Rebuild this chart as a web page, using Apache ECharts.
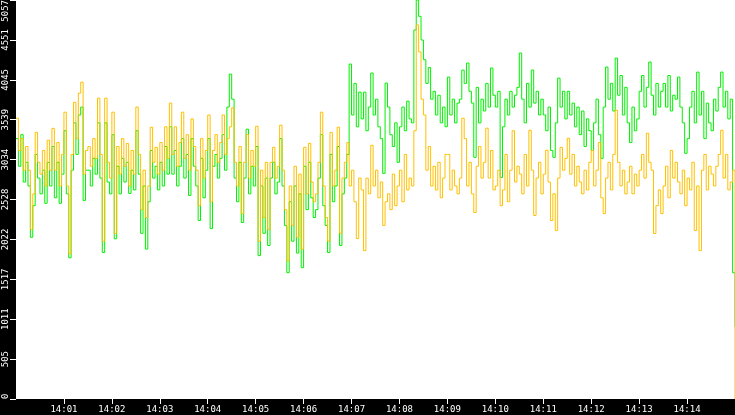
<!DOCTYPE html>
<html><head><meta charset="utf-8">
<script src="https://cdn.jsdelivr.net/npm/echarts@6/dist/echarts.min.js"></script>
<style>html,body{margin:0;padding:0;background:#000}#c{width:735px;height:415px}</style>
</head><body><div id="c"></div>
<script>
// Start time 14:00:00, one sample every 3 seconds, last sample at 14:15:00
const startTime = Date.UTC(2024, 0, 1, 14, 0, 0);
const stepSeconds = 3;
const tickMinutes = [1,2,3,4,5,6,7,8,9,10,11,12,13,14];
const yMax = 5057;
const ySplits = 10;

const greenValues = [
3300,2950,3350,2750,3000, 2700,2050,2450,3100,2800, 2600,2900,2480,3000,2700, 3200,2550,3000,2480,2850,
3400,2600,1790,2900,3500, 3100,3600,3700,2517,2900, 2900,2700,3050,2850,3500, 2800,1856,3500,2750,2600,
3350,2030,2950,2600,3050, 2750,3000,2605,2900,2650, 3400,2850,2100,2700,1900, 2500,3150,2800,2950,2650,
3000,2700,3200,2850,3450, 2850,3150,2700,2950,3300, 2800,3100,2580,3300,2950, 2700,2262,3050,2550,2900,
3300,2160,2950,3100,2800, 3050,3350,2900,3700,4118, 3800,2800,2500,3000,2237, 2800,3420,2600,2950,2700,
3200,1817,2700,2100,2800, 1945,2800,3000,2600,2750, 3300,2700,2200,1601,2500, 2000,2700,1850,2600,1665,
2950,2400,3000,2550,2300, 2400,2800,3350,2450,2200, 1856,3100,2500,2700,3200, 1945,2600,2800,3100,4245,
3600,4000,3450,3889,3550, 3889,3400,3700,4131,3600, 3800,3450,3300,2860,4004, 3700,3350,3200,3500,3000,
3450,3700,3400,3775,3550, 3500,4677,5057,4850,4550, 4300,4000,4200,3800,3900, 3600,3850,3500,3700,3450,
4080,3600,3800,3500,3750, 3800,4169,4000,4258,3900, 3750,3063,3950,3500,3800, 3650,4000,3700,4195,3850,
3700,3900,2809,3450,3800, 3600,3900,3700,3850,3950, 4385,3800,3500,4000,3700, 4169,3750,3900,3600,3800,
3600,3400,3700,3150,3063, 3500,4067,3700,3900,3550, 3900,3600,3750,3450,3700, 3350,3650,3200,3550,3400,
3150,3500,3800,3350,3050, 3700,4207,3800,4000,3650, 4321,3850,4100,3600,3950, 3500,3250,3700,3400,3550,
3900,4100,3700,3950,4271, 3850,3600,4000,3700,3900, 4000,3700,4100,3650,3850, 3800,4080,3700,3500,3114,
3300,3700,3900,3500,4143, 3600,3900,3300,3750,3500, 3400,3800,3650,3950,4143, 3700,3900,3550,3800,1600,
915
];

const orangeValues = [
3560,3150,3300,2900,3200, 2900,2150,2600,3380,3000, 2850,3150,2700,3280,2900, 3430,2900,3250,2700,3100,
3635,2700,1840,3100,3760, 3300,3876,4016,2850,3150, 3200,2950,3300,3050,3813, 3100,2000,3813,3000,2800,
3635,2100,3200,2850,3300, 2950,3240,2700,3150,2850, 3700,3100,2400,2900,2300, 2700,3445,3000,3190,2850,
3250,2900,3450,3050,3750, 3100,3450,2950,3250,3635, 3050,3350,2900,3550,3200, 2900,2450,3300,2800,3150,
3600,2500,3150,3350,3000, 3250,3600,3100,3300,3450, 3690,3000,2700,3200,2350, 3000,3350,2800,3150,2950,
3457,2000,2900,2300,3000, 2150,3000,3190,2800,2950, 3470,2900,2400,1750,2700, 2200,2950,2050,2850,1900,
3190,2600,3240,2750,2500, 2600,3000,3635,2700,2300, 2000,3380,2700,2900,3445, 2100,2800,3000,3250,2700,
2900,2500,2034,2800,2650, 1880,2800,2600,3215,2700, 2900,2550,2750,2200,2500, 2600,2400,2850,2450,2700,
2900,2500,3100,2650,2800, 2700,3400,4741,4400,3800, 3600,2900,3200,2700,2950, 2650,3000,2550,2800,3100,
3100,2650,2900,2700,2600, 2800,3559,3300,2700,3000, 2600,2364,2950,3200,2800, 3000,3432,2800,3150,2650,
2700,2900,2450,2650,3100, 2500,2900,3400,2750,2950, 2850,2600,3100,2700,3406, 2900,2326,2800,3000,2600,
2850,3152,2750,2262,2600, 2135,2800,3190,2900,3050, 3305,2850,3100,2700,2950, 2750,2600,2900,2650,3000,
3150,2700,2900,3250,2550, 2350,2800,3000,2650,3100, 3660,3000,2700,2900,2600, 2750,2950,2600,2850,2700,
2900,3100,2800,3368,3000, 2900,2097,2450,2650,2350, 2700,2950,2550,3150,2800, 3000,2750,2600,2900,2450,
2800,2650,3000,2135,2700, 1881,2900,3100,2650,2950, 2850,2700,2950,3100,3406, 2800,3100,2650,2750,2900,
0
];

function toPairs(vals) {
  return vals.map((v, i) => [startTime + i * stepSeconds * 1000, v]);
}
const endTime = startTime + (greenValues.length - 1) * stepSeconds * 1000;
const tickTimes = tickMinutes.map(m => startTime + m * 60000);
const pad = n => (n < 10 ? '0' : '') + n;

const chart = echarts.init(document.getElementById('c'), null, {renderer: 'canvas'});
chart.setOption({
  animation: false,
  backgroundColor: '#000',
  grid: {
    left: 16, right: 0, top: 0, bottom: 16,
    show: true, backgroundColor: '#fff', borderWidth: 0,
    containLabel: false, outerBoundsMode: 'none'
  },
  xAxis: {
    type: 'value',
    min: startTime, max: endTime, interval: 60000,
    splitLine: {show: false},
    axisLine: {show: false},
    axisTick: {show: true, length: 5, lineStyle: {color: '#fff'}, customValues: tickTimes},
    axisLabel: {
      color: '#fff', fontFamily: 'DejaVu Sans Mono', fontSize: 9, margin: 6,
      customValues: tickTimes,
      formatter: v => { const d = new Date(v); return pad(d.getUTCHours()) + ':' + pad(d.getUTCMinutes()); }
    }
  },
  yAxis: {
    type: 'value',
    min: 0, max: yMax, interval: yMax / ySplits,
    splitLine: {show: false},
    axisLine: {show: false},
    axisTick: {show: true, length: 6, lineStyle: {color: '#fff'}},
    axisLabel: {
      color: '#fff', fontFamily: 'DejaVu Sans Mono', fontSize: 9, margin: 6, rotate: 90,
      alignMinLabel: 'left', alignMaxLabel: 'right',
      formatter: v => String(Math.floor(v + 1e-6))
    }
  },
  series: [
    {type: 'line', step: 'end', data: toPairs(greenValues), showSymbol: false,
     lineStyle: {color: '#00f000', width: 1}, itemStyle: {color: '#00f000'}},
    {type: 'line', step: 'end', data: toPairs(orangeValues), showSymbol: false,
     lineStyle: {color: '#ffc000', width: 1}, itemStyle: {color: '#ffc000'}}
  ]
});
</script></body></html>
